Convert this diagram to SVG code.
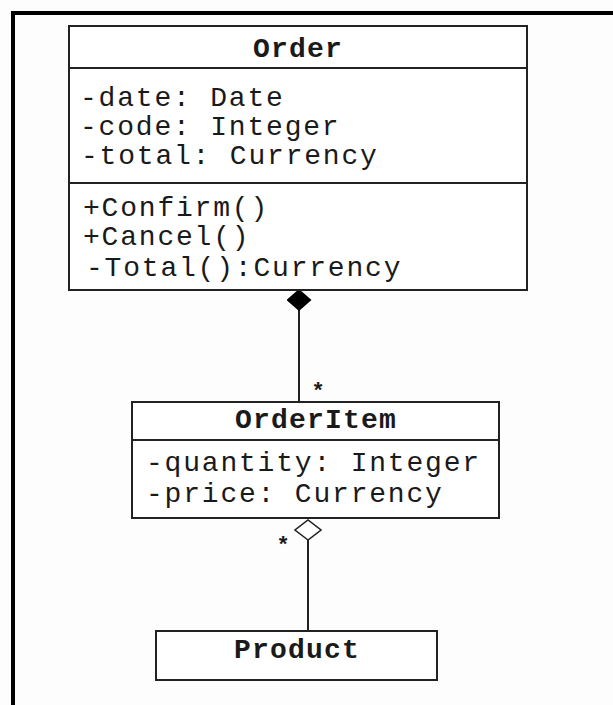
<svg xmlns="http://www.w3.org/2000/svg" width="613" height="705" viewBox="0 0 613 705">
<defs>
<style>
.box{fill:#fff;stroke:#222;stroke-width:2}
.div{stroke:#222;stroke-width:2}
.t{font-family:"Liberation Mono","DejaVu Sans Mono",monospace;font-size:28px;letter-spacing:1.8px;fill:#1a1a1a}
.h{font-weight:bold;text-anchor:middle;letter-spacing:1.2px}
.m{font-family:"Liberation Mono","DejaVu Sans Mono",monospace;font-size:22px;font-weight:bold;fill:#1a1a1a;text-anchor:middle}
.conn{stroke:#222;stroke-width:2;fill:none}
</style>
<marker id="comp" markerUnits="userSpaceOnUse" markerWidth="22" markerHeight="25" viewBox="0 0 22 25" refX="22" refY="12.5" orient="auto">
<path d="M0,12.5 L11,0 L22,12.5 L11,25 Z" fill="#000"/>
</marker>
<marker id="agg" markerUnits="userSpaceOnUse" markerWidth="22" markerHeight="28" viewBox="-1 -1 22 28" refX="20" refY="13" orient="auto">
<path d="M0,13 L10,0 L20,13 L10,26 Z" fill="#fff" stroke="#222" stroke-width="1.5"/>
</marker>
</defs>
<rect width="613" height="705" fill="#fdfdfd"/>
<g id="frame">
<line x1="13" y1="11" x2="13" y2="705" stroke="#000" stroke-width="4"/>
<line x1="11" y1="13" x2="613" y2="13" stroke="#000" stroke-width="4"/>
</g>
<g id="connectors">
<path class="conn" d="M299,402 L299,289" marker-end="url(#comp)"/>
<path class="conn" d="M308,631 L308,520" marker-end="url(#agg)"/>
<text class="m" x="318" y="398">*</text>
<text class="m" x="283" y="552">*</text>
</g>
<g id="Order">
<rect class="box" x="69" y="26" width="458" height="264"/>
<line class="div" x1="69" y1="68" x2="527" y2="68"/>
<line class="div" x1="69" y1="183" x2="527" y2="183"/>
<text class="t h" x="298" y="57">Order</text>
<text class="t" x="80" y="106">-date: Date</text>
<text class="t" x="80" y="135">-code: Integer</text>
<text class="t" x="81" y="164">-total: Currency</text>
<text class="t" x="83" y="216">+Confirm()</text>
<text class="t" x="83" y="245">+Cancel()</text>
<text class="t" x="86" y="276">-Total():Currency</text>
</g>
<g id="OrderItem">
<rect class="box" x="132" y="402" width="367" height="116"/>
<line class="div" x1="132" y1="440" x2="499" y2="440"/>
<text class="t h" x="316" y="428">OrderItem</text>
<text class="t" x="146" y="471">-quantity: Integer</text>
<text class="t" x="146" y="502">-price: Currency</text>
</g>
<g id="Product">
<rect class="box" x="156" y="631" width="281" height="49"/>
<text class="t h" x="297" y="658">Product</text>
</g>
</svg>
